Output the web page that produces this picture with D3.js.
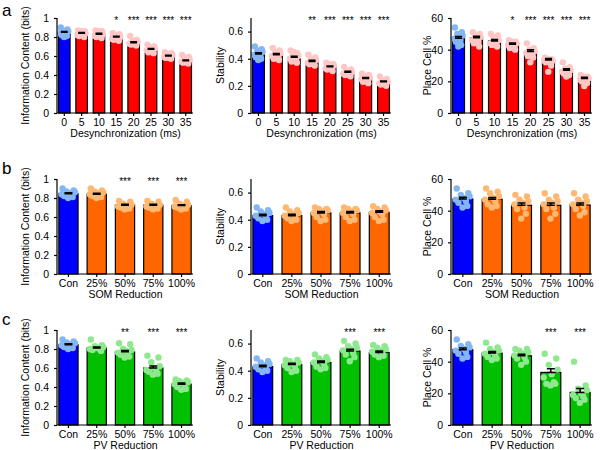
<!DOCTYPE html>
<html><head><meta charset="utf-8">
<script src="https://cdn.jsdelivr.net/npm/d3@7/dist/d3.min.js"></script>
<style>body{margin:0;background:#fff}svg{display:block;font-family:"Liberation Sans",Arial,sans-serif}</style>
</head><body><svg id="c" width="600" height="450"></svg>
<script>
// ---------- categories & ticks ----------
const desyncCats = ["0","5","10","15","20","25","30","35"];
const reductionCats = ["Con","25%","50%","75%","100%"];
const infoTicks = [0,0.2,0.4,0.6,0.8,1];
const stabTicks = [0,0.2,0.4,0.6];
const placeTicks = [0,20,40,60];

// ---------- shared control dots ----------
const conInfoDots  = [0.90,0.88,0.87,0.86,0.85,0.84,0.83,0.82,0.81,0.80];
const conStabDots  = [0.49,0.47,0.46,0.45,0.44,0.43,0.42,0.41,0.40,0.39];
const conPlaceDots = [54,51,50,49,48,47,46,45,43,42];

// ---------- panel a : desynchronization ----------
const desyncInfoMean = [0.85,0.84,0.83,0.80,0.74,0.67,0.60,0.55];
const desyncInfoSem  = [0.008,0.008,0.009,0.009,0.009,0.009,0.009,0.008];
const desyncInfoStars = ["","","","*","***","***","***","***"];
const desyncInfoDots = [
  conInfoDots,
  [0.87,0.86,0.85,0.84,0.83,0.82,0.82,0.81,0.80,0.86],
  [0.87,0.86,0.84,0.83,0.82,0.81,0.80,0.80,0.79,0.86],
  [0.84,0.83,0.81,0.80,0.79,0.78,0.78,0.77,0.76,0.82],
  [0.81,0.77,0.76,0.75,0.74,0.73,0.72,0.72,0.71,0.75],
  [0.72,0.70,0.69,0.68,0.67,0.66,0.65,0.64,0.63,0.69],
  [0.64,0.63,0.62,0.61,0.60,0.59,0.58,0.58,0.57,0.62],
  [0.61,0.59,0.57,0.56,0.55,0.54,0.53,0.53,0.52,0.58]
];
const desyncStabMean = [0.435,0.43,0.41,0.38,0.34,0.30,0.255,0.23];
const desyncStabSem  = [0.009,0.008,0.009,0.008,0.007,0.007,0.006,0.006];
const desyncStabStars = ["","","","**","***","***","***","***"];
const desyncStabDots = [
  conStabDots,
  [0.48,0.46,0.45,0.44,0.43,0.42,0.41,0.40,0.39,0.43],
  [0.46,0.44,0.43,0.42,0.41,0.40,0.39,0.38,0.37,0.45],
  [0.43,0.41,0.40,0.39,0.38,0.37,0.36,0.36,0.35,0.39],
  [0.37,0.36,0.35,0.35,0.34,0.33,0.33,0.32,0.31,0.36],
  [0.34,0.32,0.31,0.30,0.30,0.29,0.28,0.28,0.27,0.31],
  [0.29,0.28,0.27,0.26,0.25,0.25,0.24,0.23,0.22,0.27],
  [0.27,0.25,0.24,0.23,0.22,0.22,0.21,0.21,0.20,0.24]
];
const desyncPlaceMean = [47.2,47.5,45.5,43.4,38.8,33.5,27,21.8];
const desyncPlaceSem  = [1.1,1.0,1.0,0.8,1.2,1.0,0.9,0.8];
const desyncPlaceStars = ["","","","*","***","***","***","***"];
const desyncPlaceDots = [
  conPlaceDots,
  [51,50,49,48,47,46,45,44,42,47],
  [50,49,48,46,45,44,43,43,42,47],
  [46,45,44,44,43,43,42,41,40,45],
  [44,41,40,39,38,38,37,36,35,32],
  [35,34,34,33,33,33,32,32,30,26],
  [32,29,28,27,27,26,25,25,24,23],
  [24,23,23,22,22,21,21,20,19,17]
];

// ---------- panel b : SOM reduction ----------
const somInfoMean = [0.845,0.84,0.725,0.725,0.72];
const somInfoSem  = [0.009,0.009,0.008,0.008,0.008];
const somInfoStars = ["","","***","***","***"];
const somInfoDots = [
  conInfoDots,
  [0.90,0.88,0.87,0.86,0.85,0.84,0.83,0.82,0.81,0.80],
  [0.77,0.76,0.74,0.73,0.72,0.71,0.71,0.70,0.69,0.68],
  [0.77,0.76,0.74,0.73,0.72,0.71,0.71,0.70,0.69,0.68],
  [0.78,0.76,0.74,0.73,0.72,0.71,0.70,0.70,0.69,0.68]
];
const somStabMean = [0.43,0.43,0.45,0.45,0.455];
const somStabSem  = [0.010,0.010,0.011,0.011,0.011];
const somStabStars = ["","","","",""];
const somStabDots = [
  conStabDots,
  [0.49,0.47,0.46,0.45,0.44,0.43,0.42,0.41,0.40,0.39],
  [0.49,0.48,0.48,0.47,0.46,0.45,0.44,0.42,0.40,0.39],
  [0.49,0.48,0.48,0.47,0.46,0.45,0.44,0.42,0.40,0.39],
  [0.50,0.49,0.48,0.47,0.46,0.45,0.44,0.42,0.40,0.39]
];
const somPlaceMean = [47.4,47.2,43.4,43.4,43.6];
const somPlaceSem  = [1.1,1.1,1.4,1.5,1.3];
const somPlaceStars = ["","","","",""];
const somPlaceDots = [
  conPlaceDots,
  [54,52,51,49,48,47,46,44,43,42],
  [50,49,47,46,45,44,42,41,38,35],
  [51,49,47,46,45,44,42,41,38,35],
  [51,49,47,46,45,44,43,41,39,37]
];

// ---------- panel c : PV reduction ----------
const pvInfoMean = [0.845,0.81,0.77,0.60,0.43];
const pvInfoSem  = [0.009,0.010,0.015,0.020,0.011];
const pvInfoStars = ["","","**","***","***"];
const pvInfoDots = [
  conInfoDots,
  [0.90,0.84,0.83,0.82,0.81,0.80,0.80,0.79,0.78,0.82],
  [0.86,0.85,0.80,0.79,0.78,0.76,0.75,0.74,0.72,0.71],
  [0.73,0.71,0.66,0.62,0.60,0.58,0.57,0.56,0.54,0.53],
  [0.48,0.47,0.46,0.45,0.44,0.43,0.42,0.40,0.38,0.37]
];
const pvStabMean = [0.43,0.445,0.46,0.545,0.535];
const pvStabSem  = [0.010,0.010,0.011,0.014,0.010];
const pvStabStars = ["","","","***","***"];
const pvStabDots = [
  conStabDots,
  [0.48,0.48,0.47,0.46,0.45,0.44,0.43,0.42,0.40,0.39],
  [0.52,0.50,0.49,0.48,0.47,0.46,0.45,0.43,0.42,0.41],
  [0.62,0.60,0.58,0.57,0.56,0.55,0.53,0.52,0.50,0.47],
  [0.59,0.58,0.57,0.56,0.55,0.54,0.53,0.52,0.51,0.50]
];
const pvPlaceMean = [47.6,45.4,43.7,33.2,20.6];
const pvPlaceSem  = [1.1,1.1,1.0,2.3,2.4];
const pvPlaceStars = ["","","","***","***"];
const pvPlaceDots = [
  conPlaceDots,
  [52,49,48,47,46,45,44,43,42,41],
  [48,48,47,46,45,44,43,42,40,38],
  [45,42,38,35,32,30,27,26,26,25],
  [40,25,23,22,20,19,18,17,16,14]
];

// ---------- styling / layout ----------
const barColors = {blue:"#0000ff", red:"#ff0000", orange:"#ff6600", green:"#00c000"};
const dotColors = {blue:"#84b6f4", red:"#ffc6c6", orange:"#ffb872", green:"#8ee88e"};
const rowY0 = [113, 274, 425];
const plotH = 95;
const colX0 = [57, 251, 451];
const colX1 = [192, 390, 591];
const yTitleOff = [28, 27, 20];
const jitter = [-0.36,0.32,-0.12,0.4,0.05,-0.42,0.18,-0.26,0.26,-0.02];

const metrics = [
  {title:"Information Content (bits)", max:1, ticks:infoTicks, fmt:d3.format("~g")},
  {title:"Stability", max:0.7, ticks:stabTicks, fmt:d3.format("~g")},
  {title:"Place Cell %", max:60, ticks:placeTicks, fmt:d3.format("d")}
];
const rows = [
  {letter:"a", cats:desyncCats, xTitle:"Desynchronization (ms)", color:"red", pad:0.335,
   data:[[desyncInfoMean,desyncInfoSem,desyncInfoDots,desyncInfoStars],
         [desyncStabMean,desyncStabSem,desyncStabDots,desyncStabStars],
         [desyncPlaceMean,desyncPlaceSem,desyncPlaceDots,desyncPlaceStars]]},
  {letter:"b", cats:reductionCats, xTitle:"SOM Reduction", color:"orange", pad:0.32,
   data:[[somInfoMean,somInfoSem,somInfoDots,somInfoStars],
         [somStabMean,somStabSem,somStabDots,somStabStars],
         [somPlaceMean,somPlaceSem,somPlaceDots,somPlaceStars]]},
  {letter:"c", cats:reductionCats, xTitle:"PV Reduction", color:"green", pad:0.32,
   data:[[pvInfoMean,pvInfoSem,pvInfoDots,pvInfoStars],
         [pvStabMean,pvStabSem,pvStabDots,pvStabStars],
         [pvPlaceMean,pvPlaceSem,pvPlaceDots,pvPlaceStars]]}
];

const svg = d3.select("#c");

rows.forEach((row, ri) => {
  const y0 = rowY0[ri];
  svg.append("text").attr("x", 2).attr("y", ri===0 ? 16 : y0 - plotH - 5)
    .attr("font-size", 17).text(row.letter);

  row.data.forEach((d, ci) => {
    const [mean, sem, dots, stars] = d;
    const m = metrics[ci];
    const g = svg.append("g");
    const x = d3.scaleBand().domain(row.cats).range([colX0[ci] + 1, colX1[ci]])
      .paddingInner(row.pad).paddingOuter(0.03);
    const y = d3.scaleLinear().domain([0, m.max]).range([y0, y0 - plotH]);
    const bw = x.bandwidth();

    // bars
    g.selectAll("rect.bar").data(row.cats).join("rect")
      .attr("x", c => x(c)).attr("width", bw)
      .attr("y", (c,i) => y(mean[i])).attr("height", (c,i) => y0 - y(mean[i]))
      .attr("fill", (c,i) => i===0 ? barColors.blue : barColors[row.color])
      .attr("stroke", "#000").attr("stroke-width", 1.2);

    // dots
    row.cats.forEach((c, i) => {
      const col = i===0 ? dotColors.blue : dotColors[row.color];
      g.selectAll(null).data(dots[i]).join("circle")
        .attr("cx", (v,k) => x(c) + bw/2 + jitter[k % jitter.length]*bw*0.85)
        .attr("cy", v => y(v)).attr("r", 3.2).attr("fill", col);
    });

    // error bars (upper half + cap, and bar-top line)
    row.cats.forEach((c, i) => {
      const cx = x(c) + bw/2, hw = Math.min(4, bw*0.3);
      const top = y(mean[i] + sem[i]), mid = y(mean[i]);
      const path = `M${cx},${mid}V${top}M${cx-hw},${top}H${cx+hw}M${cx-hw},${mid}H${cx+hw}`;
      g.append("path").attr("d", path).attr("stroke", "#000").attr("stroke-width", 1.5).attr("fill","none");
    });

    // stars
    g.selectAll("text.star").data(row.cats).join("text")
      .attr("x", c => x(c) + bw/2).attr("y", y0 - plotH + 6)
      .attr("text-anchor", "middle").attr("font-size", 10)
      .text((c,i) => stars[i]);

    // axes
    const yAxis = d3.axisLeft(y).tickValues(m.ticks).tickFormat(m.fmt).tickSize(3).tickPadding(5).tickSizeOuter(0);
    const ya = g.append("g").attr("transform", `translate(${colX0[ci]},0)`).call(yAxis);
    ya.select(".domain").attr("d", `M0,${y0}V${y0-plotH}`);
    const xAxis = d3.axisBottom(x).tickSize(3).tickPadding(3).tickSizeOuter(0);
    const xa = g.append("g").attr("transform", `translate(0,${y0})`).call(xAxis);
    xa.select(".domain").attr("d", `M${colX0[ci]},0H${colX1[ci]+1}`);
    [ya, xa].forEach(a => {
      a.selectAll("text").attr("font-size", 10.5).attr("fill", "#000");
      a.selectAll("line, path").attr("stroke", "#000").attr("stroke-width", 1.2);
      a.attr("font-family", null);
    });

    // titles
    g.append("text").attr("transform", `translate(${colX0[ci]-yTitleOff[ci]},${y0 - plotH/2}) rotate(-90)`)
      .attr("text-anchor", "middle").attr("font-size", 10.5).text(m.title);
    g.append("text").attr("x", (colX0[ci]+colX1[ci])/2 + 1).attr("y", y0 + 24)
      .attr("text-anchor", "middle").attr("font-size", 10.5).text(row.xTitle);
  });
});
</script></body></html>
